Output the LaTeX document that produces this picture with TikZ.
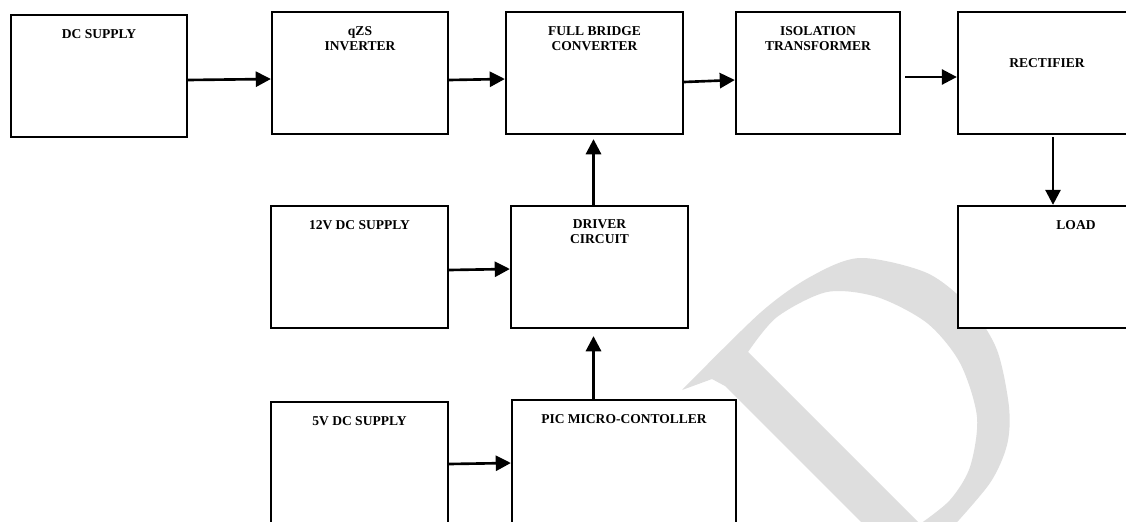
\documentclass[tikz,border=0pt]{standalone}
\usepackage{fontspec}
\setmainfont{Liberation Serif}
\usepackage{xcolor}
\usetikzlibrary{arrows.meta,positioning,calc}
\definecolor{wmgray}{HTML}{DEDEDE}
\def\pw{0.02cm}
\begin{document}
\begin{tikzpicture}[x=0.02cm,y=-0.02cm,>={Triangle[length=8.6pt,width=8.6pt]},
  blk/.style={draw,fill=white,line width=1.3pt,inner sep=0pt,minimum height=122*\pw},
  txt/.style={font=\fontsize{7.7}{9}\selectfont\bfseries,align=center,inner sep=0pt},
  arr/.style={->,line width=1.5pt}]
\useasboundingbox (0,0) rectangle (1126,521);
\clip (0,0) rectangle (1126,521);
\fill[white] (0,0) rectangle (1126,521);
% watermark
\fill[wmgray,even odd rule] (682,390) -- (712,379) -- (725,386) -- (869,530) -- (950,530)
  -- plot[smooth] coordinates {(950,530) (990,483) (1007,445) (1009,407) (997,350) (970,307) (927,273) (860,258) (810,277) (760,313) (682,390)} -- cycle
  (748,352) -- (920,524)
  -- plot[smooth] coordinates {(920,524) (950,500) (970,467) (977,417) (960,363) (927,323) (877,297) (827,292) (777,317) (748,352)} -- cycle;
% power path
\node[blk,minimum width=176*\pw] (dc) at (99,76) {};
\node[blk,minimum width=176*\pw] (qzs) at (360,73) {};
\node[blk,minimum width=177*\pw] (fb) at (594.5,73) {};
\node[blk,minimum width=164*\pw] (iso) at (818,73) {};
\node[blk,minimum width=178*\pw] (rect) at (1047,73) {};
\node[blk,minimum width=178*\pw] (load) at (1047,267) {};
% control path
\node[blk,minimum width=177*\pw] (v12) at (359.5,267) {};
\node[blk,minimum width=177*\pw] (drv) at (599.5,267) {};
\node[blk,minimum width=177*\pw,minimum height=132*\pw] (v5) at (359.5,468) {};
\node[blk,minimum width=224*\pw,minimum height=132*\pw] (pic) at (624,466) {};
% labels
\node[txt,below=0.3cm of dc.north] (dclbl) {DC SUPPLY};
\node[txt,below=0.3cm of qzs.north] (qzslbl) {qZS\\INVERTER};
\node[txt,below=0.3cm of fb.north] (fblbl) {FULL BRIDGE\\CONVERTER};
\node[txt,below=0.3cm of iso.north] (isolbl) {ISOLATION\\TRANSFORMER};
\node[txt,below=0.94cm of rect.north] (rectlbl) {RECTIFIER};
\node[txt,below=0.3cm of load.north,xshift=0.58cm] (loadlbl) {LOAD};
\node[txt,below=0.3cm of v12.north] (v12lbl) {12V DC SUPPLY};
\node[txt,below=0.28cm of drv.north] (drvlbl) {DRIVER\\CIRCUIT};
\node[txt,below=0.3cm of v5.north] (v5lbl) {5V DC SUPPLY};
\node[txt,below=0.3cm of pic.north] (piclbl) {PIC MICRO-CONTOLLER};
% connectors
\draw[arr] ($(dc.east)+(0,4)$) -- ($(qzs.west)+(0,6)$);
\draw[arr] ($(qzs.east)+(0,7)$) -- ($(fb.west)+(0,6)$);
\draw[arr] ($(fb.east)+(0,9)$) -- ($(iso.west)+(0,7)$);
\draw[arr] ($(iso.east)+(4,4)$) -- ($(rect.west)+(0,4)$);
\draw[arr] ($(rect.south)+(6,2)$) -- ($(load.north)+(6,0)$);
\draw[arr] ($(drv.north)+(-6,0)$) -- ($(drv.north |- fb.south)+(-6,4)$);
\draw[arr] ($(drv.south |- pic.north)+(-6,0)$) -- ($(drv.south)+(-6,7)$);
\draw[arr] ($(v12.east)+(0,3)$) -- ($(drv.west)+(0,2)$);
\draw[arr] ($(v5.east |- pic.west)+(0,-2)$) -- ($(pic.west)+(0,-3)$);
\end{tikzpicture}
\end{document}
